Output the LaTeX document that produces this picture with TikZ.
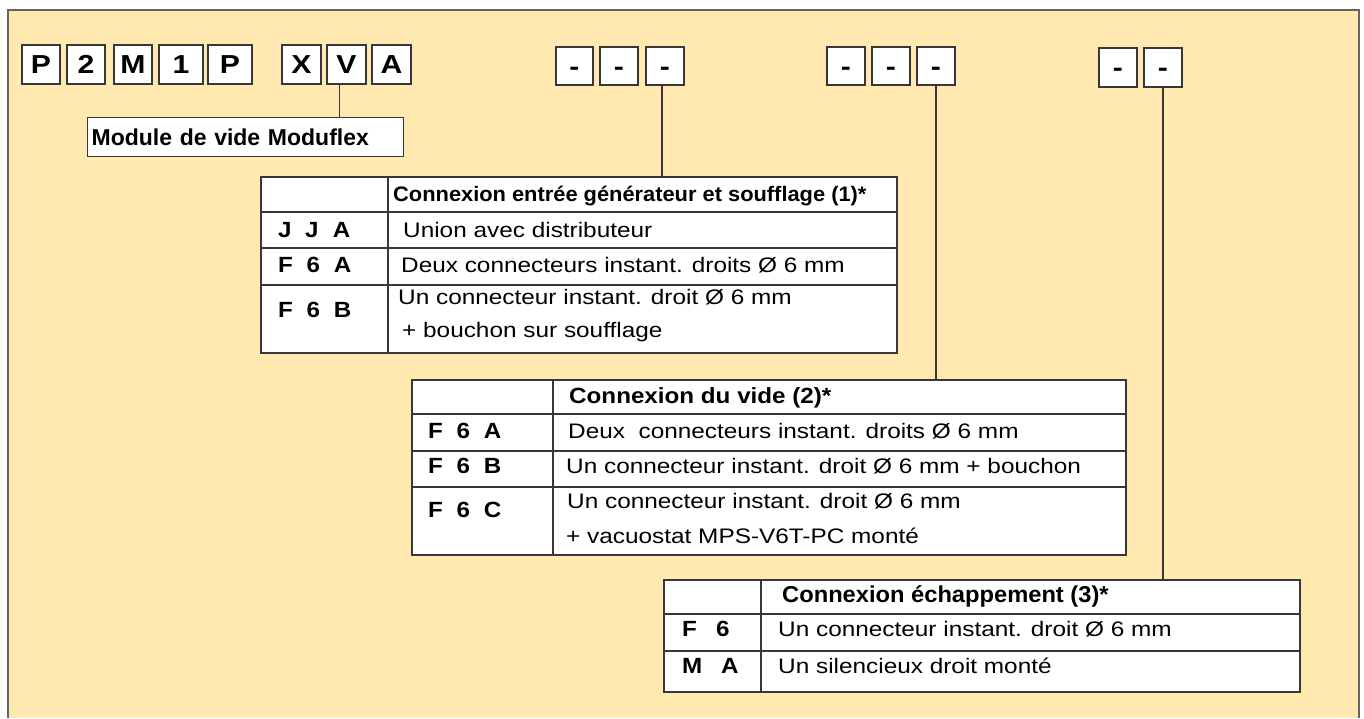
\documentclass[tikz,border=0pt]{standalone}
\usepackage{fontspec}
\setmainfont{Liberation Sans}
\usepackage{graphicx}
\definecolor{bgy}{RGB}{255,233,176}
\definecolor{lnc}{RGB}{55,55,55}
\definecolor{frc}{RGB}{100,100,100}
\newcommand\bodytxt[1]{\scalebox{1.16}[1]{\fontsize{21pt}{25pt}\selectfont #1}}
\newcommand\hdrA[1]{\scalebox{1.04}[1]{\bfseries\fontsize{21pt}{25pt}\selectfont #1}}
\newcommand\hdrB[1]{\scalebox{1.10}[1]{\bfseries\fontsize{22pt}{26pt}\selectfont #1}}
\newcommand\hdrC[1]{\scalebox{1.03}[1]{\bfseries\fontsize{23pt}{27pt}\selectfont #1}}
\newcommand\codetxt[1]{\scalebox{1.1}[1]{\bfseries\fontsize{22pt}{26pt}\selectfont #1}}
\newcommand\toplet[1]{\scalebox{1.16}[1]{#1}}
\tikzset{
  codebox/.style={draw=lnc, line width=1.2pt, fill=white, inner sep=0pt,
    minimum height=39pt, text height=18.7pt, text depth=0pt,
    font=\bfseries\fontsize{26pt}{30pt}\selectfont},
  tbl/.style={draw=lnc, line width=1.5pt, fill=white, inner sep=0pt},
  cell/.style={draw=lnc, line width=1.4pt},
  conn/.style={draw=lnc, line width=1.3pt},
  txt/.style={anchor=base west, inner sep=0pt},
}
\begin{document}
\begin{tikzpicture}[x=1pt, y=-1pt]
\useasboundingbox (0,0) rectangle (1364,718);
% background frame
\fill[bgy] (8,10) rectangle (1359,718);
\draw[frc, line width=1.6pt] (8,718) -- (8,10) -- (1359,10) -- (1359,718);

% code boxes
\node[codebox, minimum width=38pt] (cP1) at (41,64.5) {\toplet{P}};
\node[codebox, minimum width=38pt] (c2) at (86,64.5) {\toplet{2}};
\node[codebox, minimum width=38pt] (cM) at (133,64.5) {\toplet{M}};
\node[codebox, minimum width=44pt] (c1) at (181,64.5) {\toplet{1}};
\node[codebox, minimum width=44pt] (cP2) at (230,64.5) {\toplet{P}};
\node[codebox, minimum width=39pt] (cX) at (301.5,64.5) {\toplet{X}};
\node[codebox, minimum width=39pt] (cV) at (346.5,64.5) {\toplet{V}};
\node[codebox, minimum width=39pt] (cA) at (391.5,64.5) {\toplet{A}};

% dash boxes
\node[codebox, minimum width=37pt, minimum height=38pt] (d11) at (574.5,66) {\toplet{-}};
\node[codebox, minimum width=38pt, minimum height=38pt] (d12) at (619,66) {\toplet{-}};
\node[codebox, minimum width=38pt, minimum height=38pt] (d13) at (665,66) {\toplet{-}};
\node[codebox, minimum width=38pt, minimum height=38pt] (d21) at (846,66) {\toplet{-}};
\node[codebox, minimum width=38pt, minimum height=38pt] (d22) at (891,66) {\toplet{-}};
\node[codebox, minimum width=38pt, minimum height=38pt] (d23) at (936,66) {\toplet{-}};
\node[codebox, minimum width=38pt, minimum height=39pt] (d31) at (1118,67.5) {\toplet{-}};
\node[codebox, minimum width=38pt, minimum height=39pt] (d32) at (1163,67.5) {\toplet{-}};

% module label
\node[draw=lnc, line width=1.2pt, fill=white, anchor=north west, text width=308pt,
  inner xsep=4pt, inner ysep=0pt, minimum height=39pt, align=left,
  font=\bfseries\fontsize{23pt}{27pt}\selectfont] (mod) at (87,117) {Module de vide Moduflex};

% tables
\node[tbl, minimum width=636pt, minimum height=176pt] (t1) at (579,265) {};
\node[tbl, minimum width=714pt, minimum height=175pt] (t2) at (769,467.5) {};
\node[tbl, minimum width=636pt, minimum height=112pt] (t3) at (982,636) {};

% connectors
\coordinate (vV) at ([xshift=-7pt]cV.south);
\coordinate (v13) at ([xshift=-3pt]d13.south);
\draw[conn] (vV) -- (vV |- mod.north);
\draw[conn] (v13) -- (v13 |- t1.north);
\draw[conn] (d23.south) -- (d23.south |- t2.north);
\draw[conn] (d32.south) -- (d32.south |- t3.north);

% table 1 grid
\draw[cell] (388,177) -- (388,353);
\draw[cell] (261,212) -- (897,212);
\draw[cell] (261,248) -- (897,248);
\draw[cell] (261,285) -- (897,285);
\node[txt] (h1) at (393,201) {\hdrA{Connexion entrée générateur et soufflage (1)*}};
\node[txt] (c11) at (278,237) {\codetxt{J\hspace{12.3pt}J\hspace{13pt}A}};
\node[txt] (r11) at (403,237) {\bodytxt{Union avec distributeur}};
\node[txt] (c12) at (278,272) {\codetxt{F\hspace{12.5pt}6\hspace{12.5pt}A}};
\node[txt] (r12) at (401,272) {\bodytxt{Deux connecteurs instant. droits Ø 6 mm}};
\node[txt] (c13) at (278,317) {\codetxt{F\hspace{12.5pt}6\hspace{12.5pt}B}};
\node[txt] (r13a) at (398,304) {\bodytxt{Un connecteur instant. droit Ø 6 mm}};
\node[txt] (r13b) at (402,337) {\bodytxt{+ bouchon sur soufflage}};

% table 2 grid
\draw[cell] (553,380) -- (553,555);
\draw[cell] (412,414) -- (1126,414);
\draw[cell] (412,451) -- (1126,451);
\draw[cell] (412,487) -- (1126,487);
\node[txt] (h2) at (569,403) {\hdrB{Connexion du vide (2)*}};
\node[txt] (c21) at (428,438) {\codetxt{F\hspace{12.5pt}6\hspace{12.5pt}A}};
\node[txt] (r21) at (568,438) {\bodytxt{Deux\ \ connecteurs instant. droits Ø 6 mm}};
\node[txt] (c22) at (428,473) {\codetxt{F\hspace{12.5pt}6\hspace{12.5pt}B}};
\node[txt] (r22) at (566,473) {\bodytxt{Un connecteur instant. droit Ø 6 mm + bouchon}};
\node[txt] (c23) at (428,517) {\codetxt{F\hspace{12.5pt}6\hspace{12.5pt}C}};
\node[txt] (r23a) at (567,508) {\bodytxt{Un connecteur instant. droit Ø 6 mm}};
\node[txt] (r23b) at (566,543) {\bodytxt{+ vacuostat MPS-V6T-PC monté}};

% table 3 grid
\draw[cell] (761,580) -- (761,692);
\draw[cell] (664,614) -- (1300,614);
\draw[cell] (664,651) -- (1300,651);
\node[txt] (h3) at (782,602) {\hdrC{Connexion échappement (3)*}};
\node[txt] (c31) at (682,636) {\codetxt{F\hspace{17.5pt}6}};
\node[txt] (r31) at (778,636) {\bodytxt{Un connecteur instant. droit Ø 6 mm}};
\node[txt] (c32) at (682,673) {\codetxt{M\hspace{17pt}A}};
\node[txt] (r32) at (778,673) {\bodytxt{Un silencieux droit monté}};
\end{tikzpicture}
\end{document}
